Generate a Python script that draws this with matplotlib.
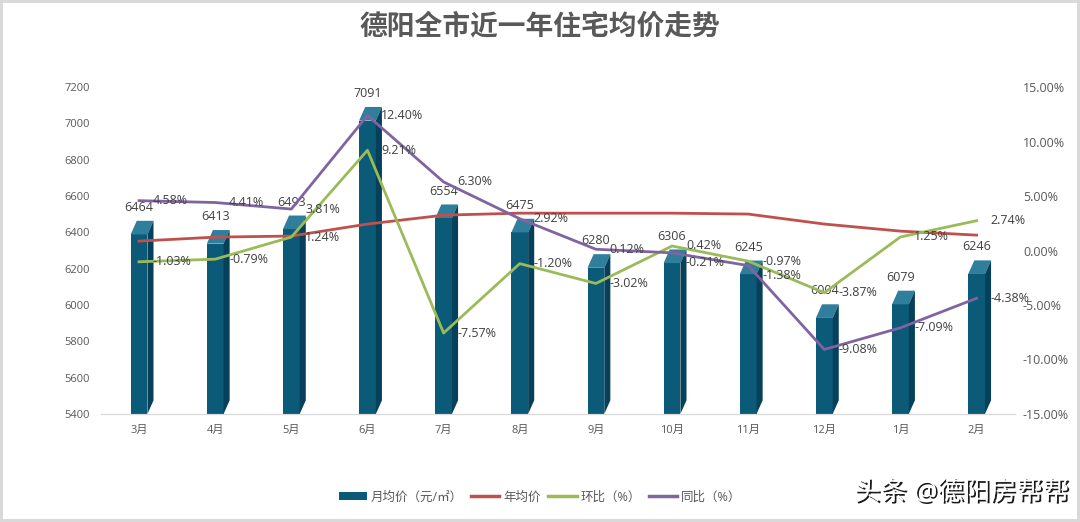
import numpy as np
import matplotlib
matplotlib.use("Agg")
import matplotlib.pyplot as plt
from matplotlib.patches import Polygon, Patch
from matplotlib.lines import Line2D
import matplotlib.patheffects as pe

plt.rcParams['font.family'] = ['Open Sans', 'Noto Sans CJK SC', 'DejaVu Sans']

# data
months = ['3月', '4月', '5月', '6月', '7月', '8月', '9月', '10月', '11月', '12月', '1月', '2月']
monthly_price = [6464, 6413, 6493, 7091, 6554, 6475, 6280, 6306, 6245, 6004, 6079, 6246]
yearly_price = [6352, 6374, 6380, 6446, 6495, 6506, 6506, 6506, 6501, 6446, 6407, 6385]
mom = [-1.03, -0.79, 1.24, 9.21, -7.57, -1.20, -3.02, 0.42, -0.97, -3.87, 1.25, 2.74]
yoy = [4.58, 4.41, 3.81, 12.40, 6.30, 2.92, 0.12, -0.21, -1.38, -9.08, -7.09, -4.38]

bar_front = '#0b5a78'
bar_top = '#2f7f9c'
bar_side = '#07405a'
red = '#c0504d'
green = '#9bbb59'
purple = '#8064a2'
txt = '#404040'

fig = plt.figure(figsize=(10.8, 5.22), dpi=100)
fig.patch.set_edgecolor('#d9d9d9')
fig.patch.set_linewidth(3)
ax = fig.add_axes([0.0935, 0.207, 0.846, 0.626])
ax2 = ax.twinx()

x = np.arange(len(months))
w = 0.22
d = 0.08
cap = 75
base = 5400

# 3D-ish columns
for xi, v in zip(x, monthly_price):
    ax.bar(xi, v - cap - base, bottom=base, width=w, color=bar_front, zorder=2)
    top = Polygon([(xi - w / 2, v - cap), (xi + w / 2, v - cap), (xi + w / 2 + d, v), (xi - w / 2 + d, v)],
                  closed=True, facecolor=bar_top, edgecolor='none', zorder=2)
    side = Polygon([(xi + w / 2, base), (xi + w / 2, v - cap), (xi + w / 2 + d, v), (xi + w / 2 + d, base + cap)],
                   closed=True, facecolor=bar_side, edgecolor='none', zorder=2)
    ax.add_patch(top)
    ax.add_patch(side)
    ax.annotate(str(v), (xi, v), xytext=(0, 5), textcoords='offset points',
                ha='center', va='bottom', fontsize=9, color=txt, zorder=5)

ax.plot(x, yearly_price, color=red, lw=2, zorder=3)

ax2.plot(x, mom, color=green, lw=2, zorder=3)
ax2.plot(x, yoy, color=purple, lw=2, zorder=3)
for xi, m, y in zip(x, mom, yoy):
    # push the lower label down where the two lines nearly meet
    dm, dy = 0, 0
    if abs(m - y) < 2:
        dm, dy = (0, -7) if m >= y else (-7, 0)
    ax2.annotate(f'{m:.2f}%', (xi, m), xytext=(10, dm), textcoords='offset points',
                 ha='left', va='center', fontsize=9, color=txt)
    ax2.annotate(f'{y:.2f}%', (xi, y), xytext=(10, dy), textcoords='offset points',
                 ha='left', va='center', fontsize=9, color=txt)

ax.set_xlim(-0.5, len(months) - 0.5)
ax.set_ylim(5400, 7200)
ax.set_yticks(np.arange(5400, 7201, 200))
ax2.set_ylim(-15, 15)
ax2.set_yticks(np.arange(-15, 16, 5))
ax2.set_yticklabels([f'{t:.2f}%' for t in np.arange(-15, 16, 5)])

ax.set_xticks(x)
ax.set_xticklabels(months)
ax.tick_params(axis='x', length=0, labelsize=8, colors='#595959', pad=8)
ax.tick_params(axis='y', length=0, labelsize=8, colors='#595959', pad=8)
ax2.tick_params(axis='y', length=0, labelsize=9, colors='#595959', pad=6)

for a in (ax, ax2):
    for s in ('top', 'left', 'right'):
        a.spines[s].set_visible(False)
    a.spines['bottom'].set_color('#d9d9d9')

fig.text(0.5, 0.948, '德阳全市近一年住宅均价走势', ha='center', va='center',
         fontsize=20, fontweight='bold', color='#595959')

handles = [Patch(facecolor=bar_front, edgecolor='none'),
           Line2D([0], [0], color=red, lw=2.5),
           Line2D([0], [0], color=green, lw=2.5),
           Line2D([0], [0], color=purple, lw=2.5)]
labels = ['月均价（元/㎡）', '年均价', '环比（%）', '同比（%）']
fig.legend(handles, labels, loc='center', bbox_to_anchor=(0.5, 0.048), ncol=4, frameon=False,
           fontsize=9, labelcolor='#595959', handlelength=2.3, handletextpad=0.3, columnspacing=0.6)

fig.text(0.99, 0.055, '头条 @德阳房帮帮', ha='right', va='center', fontsize=19, color='white',
         path_effects=[pe.withSimplePatchShadow(offset=(1.3, -1.3), shadow_rgbFace='black', alpha=0.9)])

fig.savefig('out.png', dpi=100)
